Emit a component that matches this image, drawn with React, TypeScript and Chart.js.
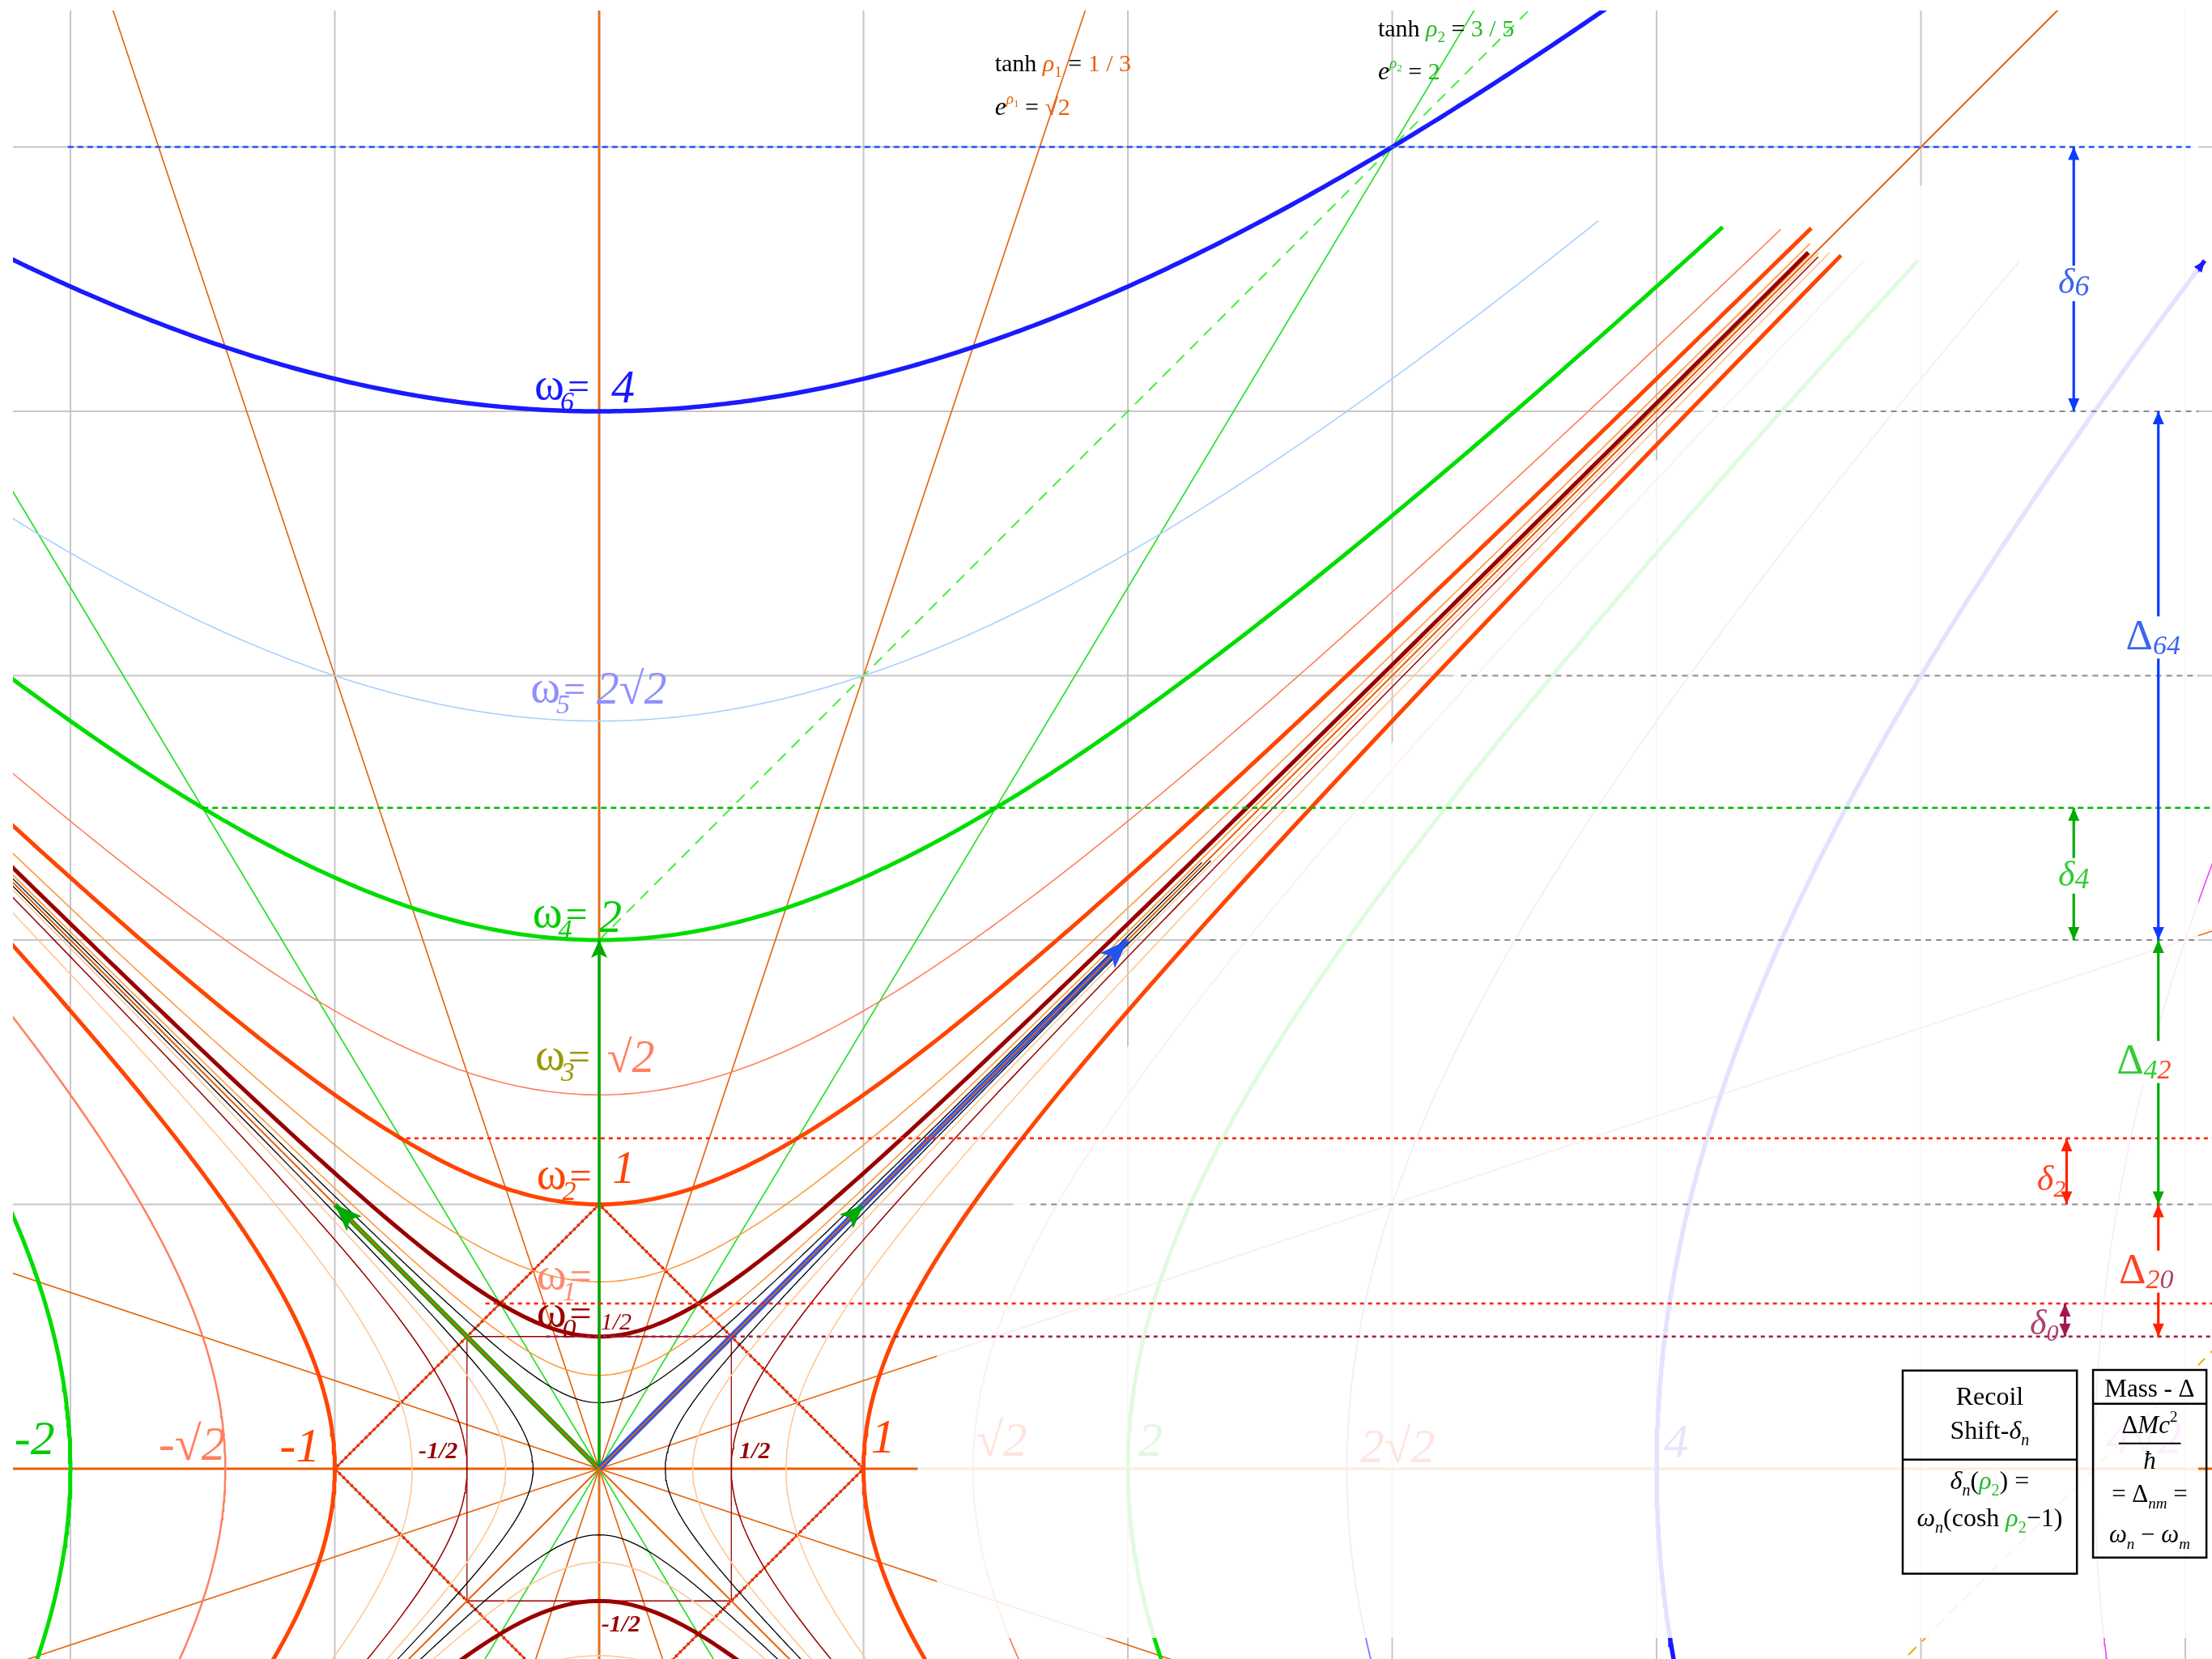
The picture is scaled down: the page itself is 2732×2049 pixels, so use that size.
import { useEffect, useRef } from 'react';
import { Chart, registerables } from 'chart.js';

Chart.register(...registerables);

const R2 = Math.SQRT2;
const SERIF = '"Liberation Serif", "DejaVu Serif", "Times New Roman", serif';

// Visible window in diagram units (one unit = one grid square)
const X_MIN = -2.2175;
const X_MAX = 6.101;
const Y_MIN = -0.7197;
const Y_MAX = 5.5161;
const CANVAS_W = 2716;
const CANVAS_H = 2036;

// Grid
const gridXs = [-2, -1, 0, 1, 2, 3, 4, 5, 6];
const gridYs = [0, 1, 2, 3, 4, 5];

// Frequency hyperbolas  y = +sqrt(x² + ω²)
const upperOmega = [R2 / 4, 1 / R2, R2, 2 * R2, 0.25, 0.5, 1, 2, 4];
const upperColor = ['#ff9a3c', '#ff9a3c', '#ff7f5f', '#a8d0ff', '#000000', '#990000', '#ff4500', '#00dd00', '#1a1aff'];
const upperWidth = [1.6, 1.6, 1.6, 1.6, 1.3, 5, 5, 5, 5.5];
const upperXEnd = [4.58, 4.58, 4.47, 3.78, 2.28, 4.574, 4.585, 4.25, 3.9];

// Lower branches  y = -sqrt(x² + ω²)
const lowerOmega = [R2 / 4, 1 / R2, 0.25, 0.5];
const lowerColor = ['#ffc896', '#ffc896', '#000000', '#990000'];
const lowerWidth = [1.6, 1.6, 1.3, 5];

// Momentum hyperbolas  x = ±sqrt(y² + a²)
const rightA = [R2 / 4, 1 / R2, 0.25, 0.5, R2, 2 * R2, 4 * R2, 1, 2, 4];
const rightColor = ['#ffc896', '#ffc896', '#000000', '#990000', '#ff7f5f', '#7777ff', '#ee44ee', '#ff4500', '#00dd00', '#1a1aff'];
const rightWidth = [1.6, 1.6, 1.3, 1.5, 1.8, 1.8, 1.6, 5, 5, 5.5];
const rightYEnd = [4.6, 4.6, 2.3, 4.584, 4.57, 4.57, 4.57, 4.59, 4.57, 4.57];

const leftA = [R2 / 4, 1 / R2, 0.25, 0.5, R2, 1, 2];
const leftColor = ['#ffc896', '#ffc896', '#000000', '#990000', '#ff7f5f', '#ff4500', '#00dd00'];
const leftWidth = [1.6, 1.6, 1.3, 1.5, 2.5, 5, 5];

// Rapidity rays through the origin: tanh ρ1 = 1/3, tanh ρ2 = 3/5
const raySlope = [3, -3, 1 / 3, -1 / 3, 5 / 3, -5 / 3];
const rayColor = ['#e8600a', '#e8600a', '#e8600a', '#e8600a', '#22dd22', '#22dd22'];
const coneSlope = [1, -1];

// Dashed tangents
const tanX0 = [0, 4.9];
const tanY0 = [2, 4.9 - 4 * R2];
const tanX1 = [3.6, 6.2];
const tanY1 = [5.6, 6.2 - 4 * R2];
const tanColor = ['#44ee44', '#e0b000'];

// Diamond |x|+|y| = 1 and the ±1/2 square
const diamondX = [1, 0, -1, 0, 1];
const diamondY = [0, 1, 0, -1, 0];
const squareX = [-0.5, 0.5, 0.5, -0.5, -0.5];
const squareY = [0.5, 0.5, -0.5, -0.5, 0.5];

// Wave vectors
const vecX = [-1, 1, 0, 2];
const vecY = [1, 1, 2, 2];
const vecColor = ['#00aa00', '#00aa00', '#00aa00', '#2255ee'];
const vecWidth = [6, 6, 3.5, 7];
const vecHeadLen = [34, 30, 22, 36];
const vecHeadHalf = [13, 12, 10, 13];

// Faded half-plane beyond x = sqrt(y² + 1.45)
const FADE_A2 = 1.45;
const FADE_BOTTOM = -0.64;
const FADE_RIGHT = 6.05;

// Boosted levels ω_n cosh ρ2
const levelY = [5, 2.5, 1.25, 0.625, 0.5];
const levelX0 = [-2.01, -1.5, -0.76, -0.43, -0.2];
const levelX1 = [6.02, 6.2, 6.2, 6.2, 6.2];
const levelColor = ['#2255ff', '#00bb00', '#ff2200', '#ff2200', '#a0204a'];
const levelDash = [[7, 5], [7, 5], [5, 5], [5, 5], [5, 5]];

// Rest levels continued across the faded area
const restY = [1, 2, 3, 4];
const restX0 = [1.63, 2.31, 3.26, 4.21];

// Recoil-shift and mass-gap arrows
const markX = [5.578, 5.898, 5.578, 5.898, 5.551, 5.898, 5.545];
const markFrom = [5, 4, 2.5, 2, 1.25, 1, 0.625];
const markTo = [4, 2, 2, 1, 1, 0.5, 0.5];
const markColor = ['#0a3cff', '#0a3cff', '#00aa00', '#00aa00', '#ff2200', '#ff2200', '#a01850'];

// ω labels
const omegaSub = ['6', '5', '4', '3', '2', '1', '0'];
const omegaLabelColor = ['#1a1aff', '#8f8fff', '#00cc00', '#999900', '#ff4500', '#ff8a70', '#990000'];
const omegaLabelX = [-0.245, -0.26, -0.252, -0.242, -0.237, -0.237, -0.237];
const omegaLabelY = [4.045, 2.9, 2.05, 1.51, 1.06, 0.68, 0.54];
const omegaValue = ['4', '2√2', '2', '√2', '1', '', '1/2'];
const omegaValueColor = ['#1a1aff', '#8f8fff', '#00cc00', '#ff7f5f', '#ff4500', '#000', '#990000'];
const omegaValueX = [0.046, -0.01, 0.0, 0.03, 0.05, 0, 0.005];
const omegaValueY = [4.034, 2.895, 2.03, 1.5, 1.08, 0, 0.527];
const omegaValueSize = [58, 56, 56, 56, 56, 0, 30];

// Axis labels
const axisText = ['-2', '-√2', '-1', '-1/2', '1/2', '1', '√2', '2', '2√2', '4', '4√2', '-1/2'];
const axisX = [-2.212, -1.667, -1.209, -0.683, 0.53, 1.028, 1.427, 2.04, 2.878, 4.028, 5.702, 0.008];
const axisY = [0.055, 0.033, 0.027, 0.04, 0.04, 0.06, 0.048, 0.048, 0.024, 0.043, 0.057, -0.616];
const axisColor = ['#00cc00', '#ff7f5f', '#ff4500', '#990000', '#990000', '#ff4500', '#ffe4dc', '#e0f7e0', '#ffe4e0', '#e6e6ff', '#fdeefd', '#990000'];
const axisSize = [60, 60, 60, 30, 30, 60, 60, 60, 60, 60, 60, 30];
const axisBold = [false, false, false, true, true, false, false, false, false, false, false, true];

type P = { x: number; y: number };
type Seg = { t: string; size: number; color?: string; it?: boolean; bold?: boolean; dy?: number; gap?: number };

function line(data: P[], color: string, width: number, extra: Record<string, unknown> = {}) {
  return { data, borderColor: color, backgroundColor: color, borderWidth: width, pointRadius: 0, fill: false, tension: 0, ...extra };
}

function sample(a: number, b: number, n: number, f: (t: number) => P): P[] {
  const out: P[] = [];
  for (let i = 0; i <= n; i++) out.push(f(a + ((b - a) * i) / n));
  return out;
}

function buildDatasets() {
  const ds: any[] = [];
  gridXs.forEach((x) => ds.push(line([{ x, y: Y_MIN - 1 }, { x, y: Y_MAX + 1 }], '#c6c6c6', 2)));
  gridYs.forEach((y) => ds.push(line([{ x: X_MIN - 1, y }, { x: X_MAX + 1, y }], '#c6c6c6', 2)));
  ds.push(line([{ x: X_MIN - 1, y: 0 }, { x: X_MAX + 1, y: 0 }], '#e8600a', 3));
  ds.push(line([{ x: 0, y: Y_MIN - 1 }, { x: 0, y: Y_MAX + 1 }], '#e07020', 3));

  raySlope.forEach((m, i) =>
    ds.push(line([{ x: -2.6, y: -2.6 * m }, { x: 6.4, y: 6.4 * m }], rayColor[i], 1.6)),
  );
  tanX0.forEach((x0, i) =>
    ds.push(line([{ x: x0, y: tanY0[i] }, { x: tanX1[i], y: tanY1[i] }], tanColor[i], 2, { borderDash: [14, 10] })),
  );

  const diamond = diamondX.map((x, i) => ({ x, y: diamondY[i] }));
  ds.push(line(diamond, '#000000', 3.5, { borderDash: [2, 5] }));
  ds.push(line(diamond, '#ff3300', 2.2));
  ds.push(line(squareX.map((x, i) => ({ x, y: squareY[i] })), '#990000', 1.3));

  const curves: any[] = [];
  upperOmega.forEach((w, i) =>
    curves.push(line(sample(-2.4, upperXEnd[i], 320, (x) => ({ x, y: Math.sqrt(x * x + w * w) })), upperColor[i], upperWidth[i])),
  );
  lowerOmega.forEach((w, i) =>
    curves.push(line(sample(-2.4, 2.4, 240, (x) => ({ x, y: -Math.sqrt(x * x + w * w) })), lowerColor[i], lowerWidth[i])),
  );
  rightA.forEach((a, i) =>
    curves.push(line(sample(-0.8, rightYEnd[i], 320, (y) => ({ x: Math.sqrt(y * y + a * a), y })), rightColor[i], rightWidth[i])),
  );
  leftA.forEach((a, i) =>
    curves.push(line(sample(-0.8, 4.6, 320, (y) => ({ x: -Math.sqrt(y * y + a * a), y })), leftColor[i], leftWidth[i])),
  );
  curves.sort((p, q) => p.borderWidth - q.borderWidth);
  ds.push(...curves);

  vecX.forEach((x, i) => ds.push(line([{ x: 0, y: 0 }, { x, y: vecY[i] }], vecColor[i], vecWidth[i])));
  coneSlope.forEach((m) => ds.push(line([{ x: -2.6, y: -2.6 * m }, { x: 6.4, y: 6.4 * m }], '#e8600a', 2)));

  // translucent veil over the far-right region
  const rim = Math.sqrt(FADE_A2);
  const top = sample(rim, FADE_RIGHT, 300, (x) => ({ x, y: Math.sqrt(Math.max(0, x * x - FADE_A2)) }));
  const bottom = top.map((p) => ({ x: p.x, y: Math.max(FADE_BOTTOM, -p.y) }));
  ds.push(line(top, 'rgba(0,0,0,0)', 0, { fill: '+1', backgroundColor: 'rgba(255,255,255,0.88)' }));
  ds.push(line(bottom, 'rgba(0,0,0,0)', 0));

  restY.forEach((y, i) =>
    ds.push(line([{ x: restX0[i], y }, { x: FADE_RIGHT, y }], '#8c8c8c', 2, { borderDash: [7, 6] })),
  );
  levelY.forEach((y, i) =>
    ds.push(line([{ x: levelX0[i], y }, { x: levelX1[i], y }], levelColor[i], 2.6, { borderDash: levelDash[i] })),
  );

  ds.forEach((d, i) => (d.order = ds.length - i));
  return ds;
}

function fontOf(s: Seg) {
  return `${s.it ? 'italic ' : ''}${s.bold ? 'bold ' : ''}${s.size}px ${SERIF}`;
}

function drawSegs(ctx: CanvasRenderingContext2D, x: number, y: number, segs: Seg[], align: 'left' | 'center' = 'left', bg = false) {
  const ws = segs.map((s) => {
    ctx.font = fontOf(s);
    return ctx.measureText(s.t).width + (s.gap || 0);
  });
  const total = ws.reduce((a, b) => a + b, 0);
  let cx = align === 'center' ? x - total / 2 : x;
  if (bg) {
    const h = Math.max(...segs.map((s) => s.size));
    ctx.fillStyle = '#ffffff';
    ctx.fillRect(cx - 4, y - h * 0.78, total + 8, h * 1.0);
  }
  segs.forEach((s, i) => {
    ctx.font = fontOf(s);
    ctx.fillStyle = s.color || '#000000';
    ctx.fillText(s.t, cx + (s.gap || 0), y + (s.dy || 0));
    cx += ws[i];
  });
}

function arrowHead(ctx: CanvasRenderingContext2D, tx: number, ty: number, dx: number, dy: number, len: number, half: number, color: string, notch = 1) {
  const L = Math.hypot(dx, dy) || 1;
  const ux = dx / L;
  const uy = dy / L;
  const bx = tx - ux * len;
  const by = ty - uy * len;
  ctx.beginPath();
  ctx.moveTo(tx, ty);
  ctx.lineTo(bx - uy * half, by + ux * half);
  ctx.lineTo(tx - ux * len * notch, ty - uy * len * notch);
  ctx.lineTo(bx + uy * half, by - ux * half);
  ctx.closePath();
  ctx.fillStyle = color;
  ctx.fill();
}

const ORANGE = '#e8600a';
const GREEN = '#22bb22';

const annotationPlugin = {
  id: 'diagramAnnotations',
  afterDatasetsDraw(chart: any) {
    const ctx: CanvasRenderingContext2D = chart.ctx;
    const X = (v: number) => chart.scales.x.getPixelForValue(v);
    const Y = (v: number) => chart.scales.y.getPixelForValue(v);
    ctx.save();
    ctx.textBaseline = 'alphabetic';
    ctx.textAlign = 'left';

    // vector heads
    vecX.forEach((vx, i) => {
      const tx = X(vx);
      const ty = Y(vecY[i]);
      arrowHead(ctx, tx, ty, tx - X(0), ty - Y(0), vecHeadLen[i], vecHeadHalf[i], vecColor[i], 0.78);
    });
    // head on the outer momentum hyperbola
    {
      const a = rightA[rightA.length - 1];
      const y1 = rightYEnd[rightYEnd.length - 1];
      const y0 = y1 - 0.05;
      const tx = X(Math.sqrt(y1 * y1 + a * a));
      const ty = Y(y1);
      arrowHead(ctx, tx, ty, tx - X(Math.sqrt(y0 * y0 + a * a)), ty - Y(y0), 14, 6, '#1a1aff');
    }

    // recoil / mass-gap arrows
    markX.forEach((mx, i) => {
      const x = X(mx);
      const y1 = Y(markFrom[i]);
      const y2 = Y(markTo[i]);
      ctx.strokeStyle = markColor[i];
      ctx.lineWidth = 3.2;
      ctx.beginPath();
      ctx.moveTo(x, y1);
      ctx.lineTo(x, y2);
      ctx.stroke();
      arrowHead(ctx, x, y1, 0, y1 - y2, 16, 7, markColor[i]);
      arrowHead(ctx, x, y2, 0, y2 - y1, 16, 7, markColor[i]);
    });

    const blueL = '#3a66ee';
    const greenL = '#33cc33';
    const redL = '#ff4422';
    const mauve = '#b04070';
    drawSegs(ctx, X(5.578), Y(4.446), [{ t: 'δ', size: 44, it: true, color: blueL }, { t: '6', size: 36, it: true, color: blueL, dy: 3 }], 'center', true);
    drawSegs(ctx, X(5.775), Y(3.1), [{ t: 'Δ', size: 52, color: blueL }, { t: '64', size: 34, it: true, color: blueL, dy: 6 }], 'left', true);
    drawSegs(ctx, X(5.578), Y(2.205), [{ t: 'δ', size: 44, it: true, color: greenL }, { t: '4', size: 36, it: true, color: greenL, dy: 3 }], 'center', true);
    drawSegs(ctx, X(5.74), Y(1.494), [{ t: 'Δ', size: 52, color: greenL }, { t: '4', size: 34, it: true, color: greenL, dy: 6 }, { t: '2', size: 34, it: true, color: redL, dy: 6 }], 'left', true);
    drawSegs(ctx, X(5.439), Y(1.054), [{ t: 'δ', size: 44, it: true, color: redL }, { t: '2', size: 30, it: true, color: redL, dy: 8 }]);
    drawSegs(ctx, X(5.749), Y(0.701), [{ t: 'Δ', size: 52, color: redL }, { t: '2', size: 34, it: true, color: redL, dy: 6 }, { t: '0', size: 34, it: true, color: mauve, dy: 6 }], 'left', true);
    drawSegs(ctx, X(5.412), Y(0.51), [{ t: 'δ', size: 44, it: true, color: mauve }, { t: '0', size: 30, it: true, color: mauve, dy: 8 }]);

    // ω labels
    omegaSub.forEach((n, i) => {
      const c = omegaLabelColor[i];
      drawSegs(ctx, X(omegaLabelX[i]), Y(omegaLabelY[i]), [
        { t: 'ω', size: 56, color: c },
        { t: n, size: 34, it: true, color: c, dy: 14, gap: -5 },
        { t: '=', size: 48, color: c, gap: -8 },
      ]);
      if (omegaValue[i]) {
        drawSegs(ctx, X(omegaValueX[i]), Y(omegaValueY[i]), [{ t: omegaValue[i], size: omegaValueSize[i], it: true, color: omegaValueColor[i] }]);
      }
    });

    // axis labels
    axisText.forEach((t, i) => {
      drawSegs(ctx, X(axisX[i]), Y(axisY[i]), [{ t, size: axisSize[i], it: true, bold: axisBold[i], color: axisColor[i] }]);
    });

    // rapidity captions
    drawSegs(ctx, X(1.4966), Y(5.285), [
      { t: 'tanh ', size: 30 },
      { t: 'ρ', size: 30, it: true, color: ORANGE },
      { t: '1', size: 19, color: ORANGE, dy: 7 },
      { t: ' = ', size: 30 },
      { t: '1 / 3', size: 30, color: ORANGE },
    ]);
    drawSegs(ctx, X(1.4966), Y(5.122), [
      { t: 'e', size: 32, it: true },
      { t: 'ρ', size: 19, it: true, color: ORANGE, dy: -14 },
      { t: '1', size: 13, color: ORANGE, dy: -10 },
      { t: ' = ', size: 30 },
      { t: '√2', size: 30, color: ORANGE },
    ]);
    drawSegs(ctx, X(2.946), Y(5.418), [
      { t: 'tanh ', size: 30 },
      { t: 'ρ', size: 30, it: true, color: GREEN },
      { t: '2', size: 19, color: GREEN, dy: 7 },
      { t: ' = ', size: 30 },
      { t: '3 / 5', size: 30, color: GREEN },
    ]);
    drawSegs(ctx, X(2.946), Y(5.255), [
      { t: 'e', size: 32, it: true },
      { t: 'ρ', size: 19, it: true, color: GREEN, dy: -14 },
      { t: '2', size: 13, color: GREEN, dy: -10 },
      { t: ' = ', size: 30 },
      { t: '2', size: 30, color: GREEN },
    ]);

    // formula boxes
    ctx.strokeStyle = '#000000';
    ctx.lineWidth = 2.5;
    const box = (x0: number, y0: number, x1: number, y1: number, yd: number) => {
      ctx.strokeRect(X(x0), Y(y0), X(x1) - X(x0), Y(y1) - Y(y0));
      ctx.beginPath();
      ctx.moveTo(X(x0), Y(yd));
      ctx.lineTo(X(x1), Y(yd));
      ctx.stroke();
    };
    box(4.931, 0.3715, 5.59, -0.397, 0.0346);
    box(5.651, 0.3737, 6.08, -0.336, 0.246);

    const c1 = X(5.26);
    drawSegs(ctx, c1, Y(0.242), [{ t: 'Recoil', size: 32 }], 'center');
    drawSegs(ctx, c1, Y(0.113), [{ t: 'Shift-', size: 32 }, { t: 'δ', size: 32, it: true }, { t: 'n', size: 20, it: true, dy: 8 }], 'center');
    drawSegs(ctx, c1, Y(-0.0757), [
      { t: 'δ', size: 32, it: true },
      { t: 'n', size: 20, it: true, dy: 8 },
      { t: '(', size: 32 },
      { t: 'ρ', size: 32, it: true, color: GREEN },
      { t: '2', size: 20, color: GREEN, dy: 8 },
      { t: ') =', size: 32 },
    ], 'center');
    drawSegs(ctx, c1, Y(-0.2175), [
      { t: 'ω', size: 32, it: true },
      { t: 'n', size: 20, it: true, dy: 8 },
      { t: '(cosh ', size: 32 },
      { t: 'ρ', size: 32, it: true, color: GREEN },
      { t: '2', size: 20, color: GREEN, dy: 8 },
      { t: '−1)', size: 32 },
    ], 'center');

    const c2 = X(5.865);
    drawSegs(ctx, c2, Y(0.2735), [{ t: 'Mass - Δ', size: 31 }], 'center');
    drawSegs(ctx, c2, Y(0.1348), [{ t: 'Δ', size: 31 }, { t: 'Mc', size: 31, it: true }, { t: '2', size: 19, dy: -14 }], 'center');
    ctx.lineWidth = 2;
    ctx.beginPath();
    ctx.moveTo(X(5.748), Y(0.0959));
    ctx.lineTo(X(5.983), Y(0.0959));
    ctx.stroke();
    drawSegs(ctx, c2, Y(0.0009), [{ t: 'ħ', size: 31, it: true }], 'center');
    drawSegs(ctx, c2, Y(-0.1256), [{ t: '= Δ', size: 31 }, { t: 'nm', size: 19, it: true, dy: 8 }, { t: ' =', size: 31 }], 'center');
    drawSegs(ctx, c2, Y(-0.2787), [
      { t: 'ω', size: 31, it: true },
      { t: 'n', size: 19, it: true, dy: 8 },
      { t: ' − ', size: 31 },
      { t: 'ω', size: 31, it: true },
      { t: 'm', size: 19, it: true, dy: 8 },
    ], 'center');

    ctx.restore();
  },
};

export default function App() {
  const ref = useRef<HTMLCanvasElement>(null);
  useEffect(() => {
    const chart = new Chart(ref.current as HTMLCanvasElement, {
      type: 'line',
      data: { datasets: buildDatasets() },
      options: {
        responsive: false,
        animation: false,
        events: [],
        layout: { padding: 0 },
        plugins: { legend: { display: false }, tooltip: { enabled: false } },
        scales: {
          x: { type: 'linear', min: X_MIN, max: X_MAX, display: false },
          y: { type: 'linear', min: Y_MIN, max: Y_MAX, display: false },
        },
        elements: { point: { radius: 0 }, line: { borderCapStyle: 'butt' } },
      } as any,
      plugins: [annotationPlugin as any],
    });
    return () => chart.destroy();
  }, []);
  return (
    <div style={{ position: 'absolute', left: 16, top: 13, width: CANVAS_W, height: CANVAS_H }}>
      <canvas ref={ref} width={CANVAS_W} height={CANVAS_H} style={{ display: 'block' }} />
    </div>
  );
}
